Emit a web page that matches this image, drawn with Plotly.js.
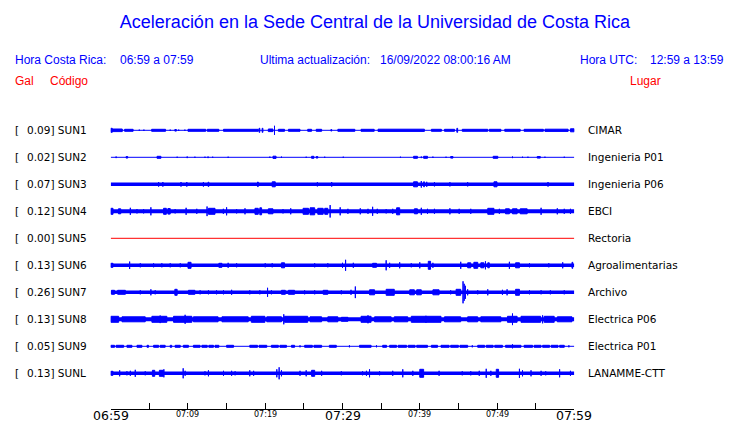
<!DOCTYPE html>
<html><head><meta charset="utf-8">
<script src="https://cdn.plot.ly/plotly-3.0.1.min.js"></script>
<style>html,body{margin:0;padding:0;background:#fff}#chart{width:740px;height:423px}</style>
</head><body><div id="chart"></div>
<script>
// ---------------- DATA ----------------
const stations = ['SUN1','SUN2','SUN3','SUN4','SUN5','SUN6','SUN7','SUN8','SUN9','SUNL'];
const places = ['CIMAR','Ingenieria P01','Ingenieria P06','EBCI','Rectoria','Agroalimentarias','Archivo','Electrica P06','Electrica P01','LANAMME-CTT'];
const peakGal = [0.09,0.02,0.07,0.12,0.00,0.13,0.26,0.13,0.05,0.13];
// background noise half-amplitude per station (trace units)
const noiseAmp = [0.5,0.5,1.7,2.0,0,1.7,1.7,2.0,0.5,1.8];

// events: [start minute, end minute, half-amplitude] (minutes after 06:59)
const SUN1 = [[0,0.2,2.5],[0.2,1.5,1.8],[1.8,2.9,1.5],[3.7,3.7,1.2],[4.3,4.3,1.2],[5.3,7.1,1.5],[7.7,7.7,1.2],[8.3,8.5,1.3],[8.8,8.8,1.2],[9.6,9.6,1.2],[10,12.3,1.5],[12.5,14,1.5],[14.6,19.1,1.5],[19.2,19.3,2.5],[19.6,19.7,2.5],[20.4,21,1.8],[21.2,21.2,5],[21.7,22.5,1.5],[23,24.5,1.5],[25.5,26,1.5],[26.6,27.3,1.5],[28.5,28.6,1.3],[29.4,31.6,1.5],[32.4,34.1,1.5],[34.6,40.6,1.6],[41.5,42.8,1.5],[43.2,44.5,1.5],[44.8,44.9,2.5],[45.5,48.8,1.5],[49,50.5,1.5],[51,53,1.5],[53.5,56,1.5],[56.2,59.2,1.6],[59.5,60,2]];
const SUN2 = [[0.7,0.7,1.3],[2,2.2,1.3],[6,6.5,1.5],[8.6,8.6,1.1],[9.9,9.9,1.3],[10.9,10.9,1.1],[12.2,12.2,1.1],[12.6,12.6,1.3],[13.2,13.2,1.1],[15.2,15.2,1.1],[20.6,20.6,1.2],[21,21.4,1.6],[22.1,22.1,1.2],[25.3,25.3,1.1],[26,26.3,1.5],[26.6,26.8,1.3],[27.7,27.7,1.1],[30.1,30.1,1.1],[37.5,37.5,1.1],[39.2,39.7,1.5],[40.2,40.2,1.3],[40.5,41,1.5],[41.7,41.7,1.2],[43.4,43.4,1.1],[44,44.3,1.3],[49.5,50.1,1.5],[52,52,1.3],[53.3,53.3,1.1],[54,54,1.1],[55.2,55.6,1.3],[56.2,56.2,1.1],[58.7,58.7,1.1]];
const SUN3 = [[6.2,6.2,2.8],[6.75,6.75,2.8],[9.1,9.1,2.8],[9.85,9.85,2.8],[12,12,2.8],[12.6,12.7,2.6],[19,19.1,2.8],[20.9,21.3,3],[26.75,26.75,2.6],[28.6,28.6,2.8],[39.2,39.7,3],[40.2,40.2,3.8],[40.5,40.6,3],[40.9,40.9,3],[41.9,41.9,2.6],[43.9,43.9,2.6],[46.2,46.2,2.6],[49.6,50,3],[56.6,56.6,2.8]];
const SUN4 = [[0,0.3,3.5],[1,1.3,3],[2.54,2.54,4],[3.4,3.4,2.6],[4.26,4.26,2.6],[5.2,5.2,4.5],[6.84,7.2,3.5],[7.4,7.7,3.3],[8.34,8.34,2.6],[9.76,9.76,4],[11.14,11.14,3],[12.47,12.47,5.3],[12.65,13.5,3.5],[14.58,14.58,3],[15,15,4.5],[16.3,16.3,2.6],[17.38,17.38,3.5],[18.67,19.1,3.5],[19.3,19.53,4],[20.4,21,3],[22.3,22.3,2.6],[23.3,23.3,3.5],[24.9,25.6,3.5],[25.8,26.4,4],[26.8,27.5,3.5],[27.7,28.1,3.5],[28.4,28.4,6.7],[29.7,29.7,4.5],[30.7,30.7,3],[32.3,32.3,3.5],[33.3,33.3,3],[33.9,33.9,5],[34.5,34.5,3],[35.65,35.65,2.6],[36.5,36.5,3],[37,37.4,4],[39.3,39.7,3],[40.2,40.2,4],[41,41,3],[41.9,41.9,3],[43.9,43.9,3.5],[45.1,45.1,3],[46.6,46.6,3],[48.8,49.6,3.5],[50.3,50.3,3],[51.1,51.6,3],[52,52.6,3],[53,53.9,3],[55.7,55.7,4],[57.8,57.8,3.5],[58.7,58.7,3],[59.5,59.5,3]];
const SUN5 = [];
const SUN6 = [[0,0.3,2.5],[2.45,2.45,4.2],[3.83,3.83,2.5],[5.55,5.55,2.5],[6.62,6.62,2.5],[7.7,7.7,2.5],[9,9,2.5],[10,10.4,3.5],[14,14.4,2.5],[15.2,15.2,3],[16.3,16.3,2.5],[20,20,2.5],[20.9,20.9,2.5],[22.1,22.5,3],[26.4,26.4,2.5],[28.1,28.1,2.5],[30,30,3],[30.4,30.4,6],[31.4,31.4,3],[33.9,34.4,2.5],[35.65,35.65,5.5],[36.1,36.1,3],[37.4,37.4,3.5],[38.9,38.9,2.5],[40,40,3.5],[41.1,41.4,4.5],[41.7,41.7,3],[45.3,45.3,4],[46.2,46.6,3],[47,47.5,3.5],[47.9,48.3,3],[48.5,48.5,4.5],[48.8,49,3],[51.6,51.6,4],[52.4,52.9,3],[54.2,54.2,2.5],[56.7,56.7,2.5],[58.5,58.5,3.5],[59.7,59.8,3.5]];
const SUN7 = [[0.1,0.5,2.5],[0.9,1.9,2.5],[3.83,3.83,2.5],[5.2,5.2,3.5],[5.76,5.76,2.5],[8.3,8.6,3.5],[10.06,10.9,2.5],[11.57,11.57,2.5],[12.65,12.65,2.5],[13.7,13.7,2.5],[14.6,14.6,2.5],[15.65,15.65,3],[18,18,2.5],[19.3,19.3,2.5],[20.3,20.3,5],[20.8,20.8,2.5],[22.1,22.6,2.5],[23,23.8,2.5],[25.1,25.1,2.5],[26.4,26.4,2.5],[27.5,28.1,2.5],[29.85,29.85,2.5],[31.1,31.1,3],[31.66,31.66,6.3],[33.5,34.15,3],[35.65,36.7,3.5],[38.7,39.3,3],[39.6,40.2,3],[41.7,42.5,3],[44,44,2.5],[44.7,45.3,3.5],[45.6,45.6,11.5],[45.75,45.75,9],[45.9,45.9,7],[46.2,46.2,3.5],[47.5,47.5,2.5],[48.8,48.8,3.5],[50.7,50.7,3],[51.3,51.3,3.5],[52.4,52.9,3.5],[54.2,54.2,2.5],[55.7,55.7,2.5],[56.9,56.9,2.5],[58.7,58.7,2.5]];
const SUN8 = [[0,1.03,3.5],[1.46,4.47,3],[5.33,7.27,3.5],[6.4,6.4,4.3],[8.13,10.5,3.5],[9.63,9.63,5],[10.7,13.9,3],[14.4,17.8,3],[18.2,19.96,3.5],[20.2,22.1,3],[22.4,22.4,5.5],[22.5,25.5,3.5],[25.8,27.3,3],[28.1,29.4,3],[29.85,30.7,2.5],[32.4,33.7,3.5],[33.3,33.3,4.5],[34.15,36.3,3],[36.7,38.45,3],[38.9,42.75,3.5],[40.8,40.8,4],[43.2,45.3,3],[46.2,47.5,3],[47.9,50.5,3],[51.35,52.6,3.5],[52,52,6.3],[53.1,55.65,3.5],[55.9,55.9,4.5],[56.1,57.4,3.5],[57.8,59.7,3]];
const SUN9 = [[0,0.5,1.5],[0.7,1.68,1.5],[2.1,2.75,1.5],[3.4,4.04,1.5],[4.7,4.9,1.5],[5.55,6.2,1.5],[6.4,7.05,1.5],[7.7,7.9,1.5],[8.34,9.0,1.5],[9.4,10.06,1.5],[10.7,11.57,1.5],[11.8,12.5,1.5],[12.7,13.3,1.5],[13.5,14,1.5],[15,15.9,1.5],[18,19,1.5],[19.2,20.2,1.5],[20.8,21.7,1.5],[21.9,22.75,1.5],[23.4,23.8,1.5],[24.5,24.5,1.5],[25.1,26.1,1.5],[26.3,27.3,1.5],[28.3,29.2,1.5],[30.9,30.9,1.5],[32.2,33.7,1.5],[34.4,34.4,1.5],[35.2,35.7,1.5],[36.1,37,1.5],[37.2,38.3,1.5],[38.5,39.4,1.5],[39.6,41,1.5],[41.5,42.3,1.5],[42.75,43.8,1.5],[44,45,1.5],[45.2,46.2,1.5],[46.8,46.8,1.5],[47.5,48.4,1.5],[48.6,49.5,1.5],[49.7,50.7,1.5],[51.1,53.1,1.5],[52,52,2.5],[53.5,54.6,1.5],[54.8,55.7,1.5],[55.9,56.8,1.5],[57,57.9,1.5],[58.1,58.7,1.5],[59.3,59.3,1.5]];
const SUNL = [[0,0.3,2.5],[1.16,1.16,3.5],[2.1,2.1,2.5],[2.54,2.54,3],[3.18,3.18,4],[4.47,4.47,2.5],[5.4,5.7,3.5],[6.3,6.8,3.5],[6.88,6.88,4.5],[9.38,9.38,5.5],[9.63,9.63,3],[12.2,12.2,2.5],[12.65,12.65,3.5],[14.6,14.6,3],[15.65,15.65,3],[16.1,16.1,2.5],[18,18,3.5],[18.5,18.5,3],[21.5,21.5,4.5],[21.8,21.8,6.5],[22.1,22.1,3.5],[24.5,24.5,3],[25.3,25.3,3.5],[26,26.4,3.5],[27.3,27.3,3],[29.85,29.85,2.5],[32.6,32.6,2.5],[33.1,33.1,3],[33.5,33.5,4.5],[34.8,34.8,2.5],[36.5,36.5,3],[37.8,37.8,4.5],[39.1,39.1,3],[40,40.5,4.5],[42.5,42.5,3],[45.5,45.5,2.5],[46.6,46.6,2.5],[47.7,47.7,3],[48.6,48.6,5],[49.2,49.2,3],[49.9,50.2,4.5],[52.9,52.9,5],[53.3,53.3,3.5],[54.4,54.4,3.5],[55.7,55.7,3],[56.3,56.3,2.5],[58.1,58.1,4.5],[59.5,59.5,3]];
const stationEvents = [SUN1,SUN2,SUN3,SUN4,SUN5,SUN6,SUN7,SUN8,SUN9,SUNL];

const tickMinutes = [0,5,10,15,20,25,30,35,40,45,50,55,60];
const tickLabels  = ['06:59','','07:09','','07:19','','07:29','','07:39','','07:49','','07:59'];
const majorTickLabels = ['06:59','07:29','07:59'];

const titleText = 'Aceleración en la Sede Central de la Universidad de Costa Rica';
const horaCR = '06:59 a 07:59';
const actualizacion = '16/09/2022 08:00:16 AM';
const horaUTC = '12:59 a 13:59';

// ---------------- RENDER ----------------
const W = 740, H = 423;
const PLOT_BOTTOM = 409;          // px of x axis line
const ROW0 = 130.3, ROW_STEP = 27; // px
const AMP_PER_ROW = 27;           // trace units per row spacing
const BLUE = '#0000ff', RED = '#ff0000';
const yTop = -ROW0 / ROW_STEP, yBot = (PLOT_BOTTOM - ROW0) / ROW_STEP;
const pyPaper = p => 1 - p / PLOT_BOTTOM;

const traces = [];
stations.forEach((s, i) => {
  const col = peakGal[i] > 0 ? BLUE : RED;
  traces.push({x:[0,60], y:[i,i], mode:'lines', line:{color:col, width:Math.max(1, 2*noiseAmp[i])}, hoverinfo:'skip'});
  const xs = [], ys = [];
  stationEvents[i].forEach(([t0,t1,a]) => {
    const h = Math.max(0, a - 0.5) / AMP_PER_ROW;
    xs.push(t0,t1,t1,t0,t0,null);
    ys.push(i-h,i-h,i+h,i+h,i-h,null);
  });
  if (xs.length) traces.push({x:xs, y:ys, mode:'lines', fill:'toself', fillcolor:col, line:{color:col, width:1}, hoverinfo:'skip'});
});

const ann = [];
const lblFont = {family:'DejaVu Sans', size:10.5, color:'#000'};
stations.forEach((s, i) => {
  ann.push({xref:'paper', yref:'y', x:15/W, y:i, xanchor:'left', yanchor:'middle', text:'[', showarrow:false, font:lblFont, borderpad:0, borderwidth:0});
  ann.push({xref:'paper', yref:'y', x:27.3/W, y:i, xanchor:'left', yanchor:'middle', text:peakGal[i].toFixed(2)+'] '+s, showarrow:false, font:lblFont, borderpad:0, borderwidth:0});
  ann.push({xref:'paper', yref:'y', x:587.5/W, y:i, xanchor:'left', yanchor:'middle', text:places[i], showarrow:false, font:lblFont, borderpad:0, borderwidth:0});
});
const hdrFont = c => ({family:'Liberation Sans, Arial, sans-serif', size:12, color:c});
const hdr = [
  ['Hora Costa Rica:', 15, 60, BLUE], [horaCR, 120, 60, BLUE],
  ['Ultima actualización:', 260, 60, BLUE], [actualizacion, 380, 60, BLUE],
  ['Hora UTC:', 580, 60, BLUE], [horaUTC, 650, 60, BLUE],
  ['Gal', 15, 81, RED], ['Código', 50, 81, RED], ['Lugar', 630, 81, RED]
];
hdr.forEach(([t,x,y,c]) => ann.push({xref:'paper', yref:'paper', x:x/W, y:pyPaper(y), xanchor:'left', yanchor:'middle', text:t, showarrow:false, font:hdrFont(c), borderpad:0, borderwidth:0}));

// time labels under the axis ticks (large for the half-hour marks, small otherwise)
tickMinutes.forEach((m, k) => {
  const lab = tickLabels[k];
  if (!lab) return;
  const major = majorTickLabels.includes(lab);
  ann.push({xref:'x', yref:'paper', x:m, y:pyPaper(major ? 415.5 : 414.5), xanchor:'center', yanchor:'middle',
            text:lab, showarrow:false, borderpad:0, borderwidth:0,
            font:{family:'DejaVu Sans', size:major ? 12.5 : 8, color:'#000'}});
});

const layout = {
  width:W, height:H,
  margin:{l:0, r:0, t:0, b:H-PLOT_BOTTOM, pad:0},
  paper_bgcolor:'#fff', plot_bgcolor:'#fff',
  showlegend:false, hovermode:false,
  title:{text:titleText, x:375/W, xanchor:'center', y:1-22/H, yanchor:'middle', font:{family:'Liberation Sans, Arial, sans-serif', size:18, color:BLUE}},
  xaxis:{domain:[110.7/W, 574.3/W], range:[0,60], showgrid:false, zeroline:false, showline:true, linecolor:'#000', linewidth:1,
         tickmode:'array', tickvals:tickMinutes, showticklabels:false, ticks:'inside', ticklen:6.5, tickwidth:1, tickcolor:'#000',
         automargin:false, fixedrange:true},
  yaxis:{range:[yBot, yTop], visible:false, showgrid:false, zeroline:false, fixedrange:true},
  annotations:ann
};
Plotly.newPlot('chart', traces, layout, {staticPlot:true, displayModeBar:false});
</script></body></html>
